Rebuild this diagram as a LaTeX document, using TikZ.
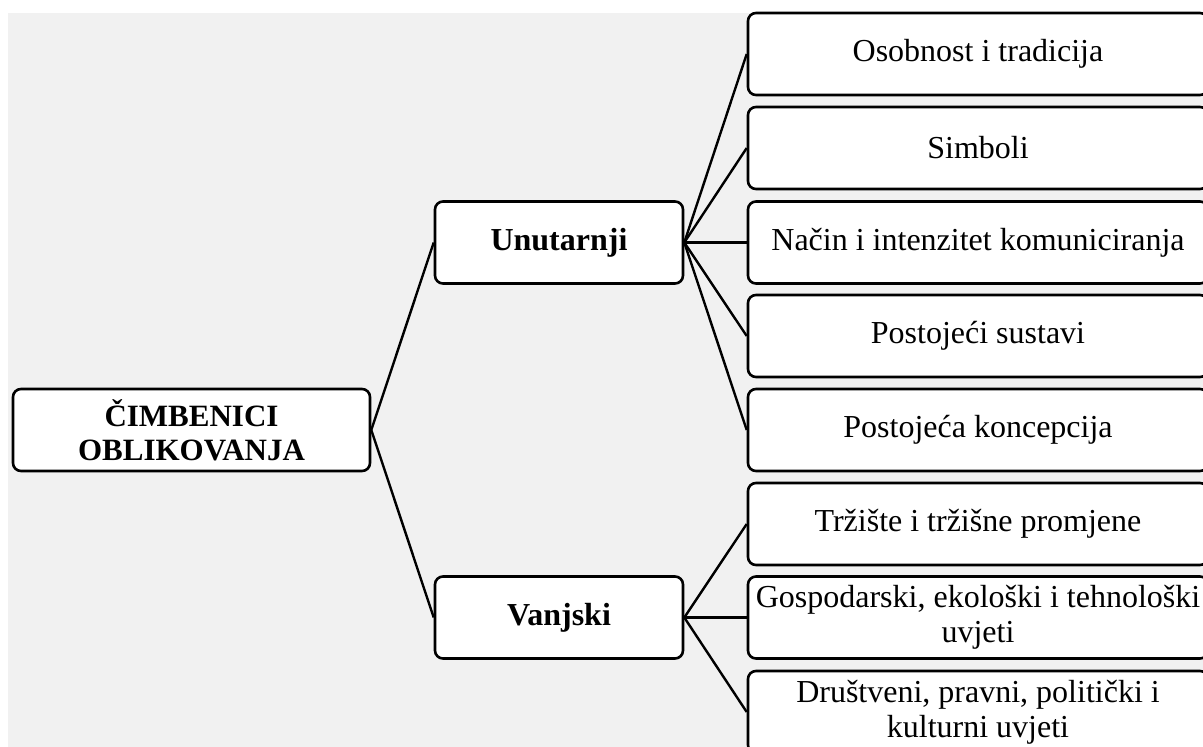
\documentclass[tikz,border=0pt]{standalone}
\usepackage{fontspec}
\setmainfont{Liberation Serif}
\definecolor{bgc}{RGB}{241,241,241}
\begin{document}
\begin{tikzpicture}[x=1pt,y=-1pt,
  box/.style={draw=black, line width=2.6pt, rounded corners=8pt, fill=white,
    inner sep=0pt, align=center, minimum height=82pt},
  leaf/.style={box, minimum width=460pt, font=\fontsize{32}{35}\selectfont},
  mid/.style={box, minimum width=248pt, font=\fontsize{32}{35}\selectfont\bfseries},
  rootbox/.style={box, minimum width=357pt, font=\fontsize{31}{34}\selectfont\bfseries},
  link/.style={draw=black, line width=2.4pt}]
\useasboundingbox (0,0) rectangle (1203,747);
\begin{scope}
\clip (0,0) rectangle (1203,747);
\fill[bgc] (8,13) rectangle (1210,760);
\node[rootbox] (root) at (191.5,430) {ČIMBENICI\\OBLIKOVANJA};
\node[mid] (u) at (559,242.5) {Unutarnji};
\node[mid] (v) at (559,617.5) {Vanjski};
\node[leaf] (l1) at (978,54) {Osobnost i tradicija};
\node[leaf] (l2) at (978,148) {Simboli};
\node[leaf] (l3) at (978,242.5) {Način i intenzitet komuniciranja};
\node[leaf] (l4) at (978,336) {Postojeći sustavi};
\node[leaf] (l5) at (978,430) {Postojeća koncepcija};
\node[leaf] (l6) at (978,524) {Tržište i tržišne promjene};
\node[leaf] (l7) at (978,617.5) {Gospodarski, ekološki i tehnološki\\uvjeti};
\node[leaf] (l8) at (978,712) {Društveni, pravni, politički i\\kulturni uvjeti};
\draw[link] (root.east) -- (u.west);
\draw[link] (root.east) -- (v.west);
\foreach \k in {1,...,5} {\draw[link] (u.east) -- (l\k.west);}
\foreach \k in {6,7,8} {\draw[link] (v.east) -- (l\k.west);}
\end{scope}
\end{tikzpicture}
\end{document}
